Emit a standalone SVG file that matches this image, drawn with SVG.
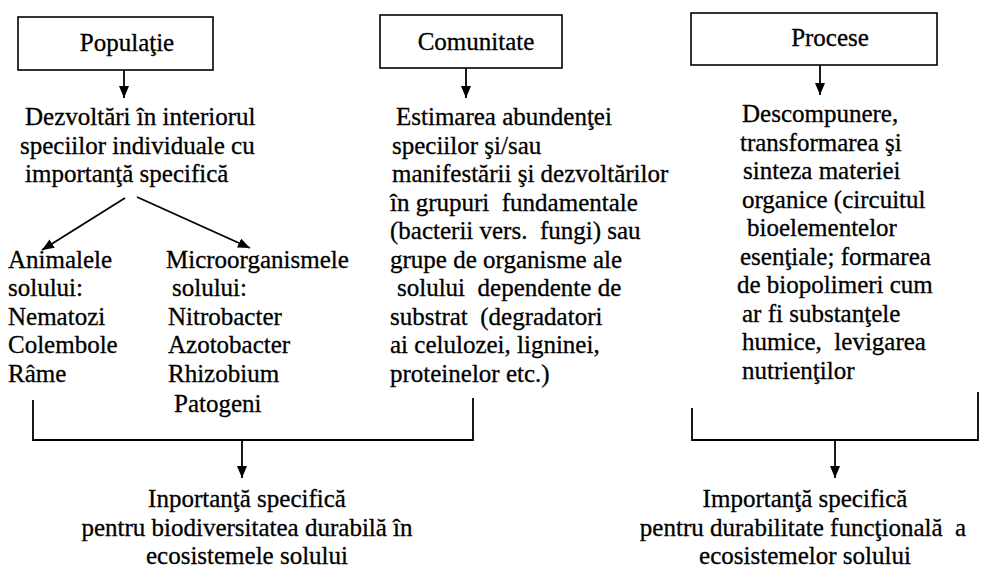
<svg xmlns="http://www.w3.org/2000/svg" width="994" height="568" viewBox="0 0 994 568">
<style>
  text { font-family: "Liberation Serif", "DejaVu Serif", "Times New Roman", Times, serif; font-size: 25px; fill: #000; stroke: #000; stroke-width: 0.3; white-space: pre; }
  .box { fill: #fff; stroke: #000; stroke-width: 1.6; }
  .c { text-anchor: middle; }
  .ln { fill: none; stroke: #000; stroke-width: 1.8; }
</style>
<defs>
  <marker id="ah" viewBox="0 0 12 10" refX="12" refY="5" markerWidth="12" markerHeight="10" markerUnits="userSpaceOnUse" orient="auto">
    <path d="M0,0 L12,5 L0,10 z" fill="#000"/>
  </marker>
</defs>
<rect width="994" height="568" fill="#fff"/>

<g id="connectors">
  <line class="ln" x1="124" y1="70" x2="124" y2="98" marker-end="url(#ah)"/>
  <line class="ln" x1="466" y1="68" x2="466" y2="98" marker-end="url(#ah)"/>
  <line class="ln" x1="820" y1="65" x2="820" y2="95" marker-end="url(#ah)"/>
  <line class="ln" x1="125" y1="198" x2="42" y2="250" marker-end="url(#ah)"/>
  <line class="ln" x1="137" y1="197" x2="250" y2="248" marker-end="url(#ah)"/>
  <path class="ln" d="M33,400 V440 H473 V398"/>
  <line class="ln" x1="242" y1="440" x2="242" y2="478" marker-end="url(#ah)"/>
  <path class="ln" d="M692,408 V440 H978 V392"/>
  <line class="ln" x1="835" y1="440" x2="835" y2="478" marker-end="url(#ah)"/>
</g>

<g id="populatie">
  <rect class="box" x="18" y="17" width="195" height="53"/>
  <text class="c" x="127" y="51">Populaţie</text>
</g>
<g id="comunitate">
  <rect class="box" x="380" y="15" width="182" height="53"/>
  <text class="c" x="476" y="50">Comunitate</text>
</g>
<g id="procese">
  <rect class="box" x="691" y="13" width="246" height="52"/>
  <text class="c" x="830" y="46">Procese</text>
</g>

<g id="dezvoltari">
  <text x="25" y="125">Dezvoltări în interiorul</text>
  <text x="20" y="153.5">speciilor individuale cu</text>
  <text x="25" y="182">importanţă specifică</text>
</g>

<g id="animalele">
  <text x="8" y="267.5">Animalele</text>
  <text x="8" y="296">solului:</text>
  <text x="8" y="324.5">Nematozi</text>
  <text x="8" y="353">Colembole</text>
  <text x="8" y="381.5">Râme</text>
</g>

<g id="microorganisme">
  <text x="166" y="267.5">Microorganismele</text>
  <text x="172" y="296">solului:</text>
  <text x="168" y="324.5">Nitrobacter</text>
  <text x="168" y="353">Azotobacter</text>
  <text x="168" y="381.5">Rhizobium</text>
  <text x="174" y="412">Patogeni</text>
</g>

<g id="comunitate-text">
  <text x="396" y="125">Estimarea abundenţei</text>
  <text x="392" y="153.5">speciilor şi/sau</text>
  <text x="392" y="182">manifestării şi dezvoltărilor</text>
  <text x="390" y="210.5">în grupuri  fundamentale</text>
  <text x="390" y="239">(bacterii vers.  fungi) sau</text>
  <text x="390" y="267.5">grupe de organisme ale</text>
  <text x="397" y="296">solului  dependente de</text>
  <text x="390" y="324.5">substrat  (degradatori</text>
  <text x="390" y="353">ai celulozei, ligninei,</text>
  <text x="390" y="381.5">proteinelor etc.)</text>
</g>

<g id="procese-text">
  <text x="742" y="122">Descompunere,</text>
  <text x="740" y="150.5">transformarea şi</text>
  <text x="743" y="179">sinteza materiei</text>
  <text x="742" y="207.5">organice (circuitul</text>
  <text x="747" y="236">bioelementelor</text>
  <text x="740" y="264.5">esenţiale; formarea</text>
  <text x="737" y="293">de biopolimeri cum</text>
  <text x="742" y="321.5">ar fi substanţele</text>
  <text x="742" y="350">humice,  levigarea</text>
  <text x="742" y="378.5">nutrienţilor</text>
</g>

<g id="biodiversitate">
  <text class="c" x="247" y="507">Inportanţă specifică</text>
  <text class="c" x="247" y="536">pentru biodiversitatea durabilă în</text>
  <text class="c" x="247" y="564">ecosistemele solului</text>
</g>

<g id="durabilitate">
  <text class="c" x="805" y="507">Importanţă specifică</text>
  <text class="c" x="803" y="536">pentru durabilitate funcţională  a</text>
  <text class="c" x="805" y="564">ecosistemelor solului</text>
</g>
</svg>
